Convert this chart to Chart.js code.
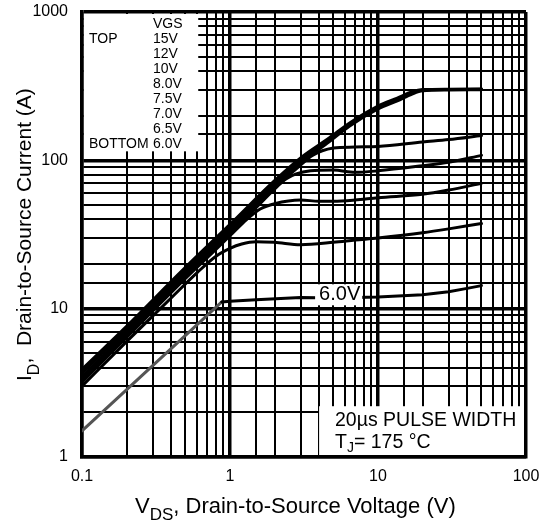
<!DOCTYPE html>
<html>
<head>
<meta charset="utf-8">
<script src="https://cdn.jsdelivr.net/npm/chart.js@4.4.0/dist/chart.umd.min.js"></script>
<style>
body { margin: 0; background: #fff; }
</style>
</head>
<body>
<canvas id="chart" width="553" height="521"></canvas>
<script>
// output characteristics (VDS in V, ID in A)
const vgsLabels = ["15V", "12V", "10V", "8.0V", "7.5V", "7.0V", "6.5V", "6.0V"];

const vdsTop = [0.1, 0.2, 0.5, 1, 2, 3, 4.7, 6.4, 10, 13.5, 17, 20, 30, 50];
const id15V = [3.9, 7.6, 19, 37, 73, 104, 142, 178, 232, 263, 290, 300, 302, 303];
const id12V = [3.7, 7.3, 18.2, 35.5, 70, 100, 138, 175, 228, 258, 285, 297, 300, 301];
const id10V = [3.5, 7.0, 17.5, 34, 67, 96, 134, 170, 222, 252, 280, 294, 298, 299];

const vds8V = [0.1, 0.2, 0.5, 1, 2, 3, 3.6, 4.2, 5, 7, 10, 20, 30, 50];
const id8V = [3.4, 6.8, 17, 33, 65, 93, 108, 116, 121, 123, 124, 133, 138, 147];

const vds75V = [0.1, 0.2, 0.5, 1, 1.5, 2, 2.4, 2.8, 3.5, 5, 7, 10, 20, 30, 50];
const id75V = [3.3, 6.6, 16.5, 32, 48, 64, 75, 81, 85, 86, 83, 85, 92, 97, 108];

const vds7V = [0.1, 0.2, 0.5, 0.8, 1, 1.3, 1.6, 2, 3, 4, 5, 7, 10, 20, 30, 50];
const id7V = [3.2, 6.4, 16, 25, 31, 40, 47, 51, 54, 53, 53, 54, 56, 59, 63, 70];

const vds65V = [0.1, 0.2, 0.4, 0.6, 0.8, 1, 1.2, 1.5, 2, 3, 5, 7, 10, 20, 30, 50];
const id65V = [3.0, 6.0, 11.8, 17.5, 22.5, 25.5, 27.3, 28.3, 28, 27, 28, 29, 30, 32.5, 34.5, 37.5];

const vds6V = [0.1, 0.88, 1, 1.5, 3, 5, 10, 20, 30, 40, 50];
const id6V = [1.5, 11.1, 11.2, 11.5, 11.9, 11.8, 12, 12.4, 13, 13.7, 14.3];

const xTickLabels = {0.1: "0.1", 1: "1", 10: "10", 100: "100"};
const yTickLabels = {1: "1", 10: "10", 100: "100", 1000: "1000"};

const FONT = '"Liberation Sans", Arial, sans-serif';
Chart.defaults.font.family = FONT;

function isDecade(v) {
    const l = Math.log10(v);
    return Math.abs(l - Math.round(l)) < 1e-6;
}

function pts(xs, ys) {
    return xs.map((v, i) => ({x: v, y: ys[i]}));
}

function curve(label, xs, ys, extra) {
    return Object.assign({
        label: label,
        data: pts(xs, ys),
        borderColor: "#000",
        borderWidth: 3,
        pointRadius: 0,
        borderCapStyle: "round",
        cubicInterpolationMode: "monotone"
    }, extra || {});
}

// draws text pieces one after another, subscripts get smaller font + offset
function drawRuns(ctx, x, y, runs) {
    runs.forEach(r => {
        ctx.font = r.size + "px " + FONT;
        ctx.fillText(r.t, x, y + (r.dy || 0));
        x += ctx.measureText(r.t).width;
    });
}

const annotations = {
    id: "annotations",
    beforeDatasetsDraw(chart) {
        const {ctx, chartArea: a, scales: {x, y}} = chart;
        ctx.save();
        ctx.fillStyle = "#fff";
        // legend box top-left
        ctx.fillRect(a.left + 2, a.top + 2, x.getPixelForValue(0.61) - a.left - 2, y.getPixelForValue(115) - a.top - 2);
        // pulse width box bottom-right
        const bx = x.getPixelForValue(4.0), by = y.getPixelForValue(2.2);
        ctx.fillRect(bx, by, a.right - 2 - bx, a.bottom - 2 - by);
        ctx.restore();
    },
    afterDatasetsDraw(chart) {
        const {ctx, scales: {x, y}} = chart;
        ctx.save();
        ctx.fillStyle = "#000";
        ctx.textBaseline = "middle";
        ctx.font = "14px " + FONT;
        ctx.fillText("VGS", 153, 24);
        vgsLabels.forEach((l, i) => ctx.fillText(l, 153, 39 + 15 * i));
        ctx.fillText("TOP", 89, 39);
        ctx.fillText("BOTTOM", 89, 144);

        // 6.0V curve label, sits on top of the line
        ctx.font = "20px " + FONT;
        const lx = x.getPixelForValue(4.0), ly = y.getPixelForValue(12.4);
        const w = ctx.measureText("6.0V").width;
        ctx.fillStyle = "#fff";
        ctx.fillRect(lx - 4, ly - 10.5, w + 6, 21);
        ctx.fillStyle = "#000";
        ctx.fillText("6.0V", lx, ly);

        ctx.textBaseline = "alphabetic";
        drawRuns(ctx, 335, 426, [{t: "20\u00b5s PULSE WIDTH", size: 19.5}]);
        drawRuns(ctx, 335, 448, [
            {t: "T", size: 19.5},
            {t: "J", size: 14, dy: 4},
            {t: "= 175 \u00b0C", size: 19.5}
        ]);
        ctx.restore();
    },
    afterDraw(chart) {
        const ctx = chart.ctx;
        ctx.save();
        ctx.fillStyle = "#000";
        ctx.textBaseline = "alphabetic";
        drawRuns(ctx, 135, 513, [
            {t: "V", size: 22},
            {t: "DS", size: 17, dy: 6.5},
            {t: ", Drain-to-Source Voltage (V)", size: 22}
        ]);
        ctx.translate(31, 381);
        ctx.rotate(-Math.PI / 2);
        drawRuns(ctx, 0, 0, [
            {t: "I", size: 21},
            {t: "D", size: 16, dy: 8},
            {t: ",  Drain-to-Source Current (A)", size: 21}
        ]);
        ctx.restore();
    }
};

function gridWidth(c) {
    return c.tick && isDecade(c.tick.value) ? 3.5 : 2;
}

new Chart(document.getElementById("chart").getContext("2d"), {
    type: "line",
    data: {
        datasets: [
            curve("15V", vdsTop, id15V),
            curve("12V", vdsTop, id12V),
            curve("10V", vdsTop, id10V),
            curve("8.0V", vds8V, id8V),
            curve("7.5V", vds75V, id75V),
            curve("7.0V", vds7V, id7V),
            curve("6.5V", vds65V, id65V),
            curve("6.0V", vds6V, id6V, {
                cubicInterpolationMode: "default",
                tension: 0,
                segment: {borderColor: c => c.p0DataIndex === 0 ? "#555" : "#000"}
            })
        ]
    },
    options: {
        responsive: false,
        animation: false,
        layout: {padding: {top: 12, right: 27, left: 0, bottom: 0}},
        plugins: {legend: {display: false}, tooltip: {enabled: false}},
        scales: {
            x: {
                type: "logarithmic",
                min: 0.1,
                max: 100,
                grid: {color: "#000", lineWidth: gridWidth, drawTicks: false},
                border: {display: true, color: "#000", width: 3.5},
                ticks: {
                    autoSkip: false, maxRotation: 0, padding: 10, color: "#000",
                    font: {size: 16},
                    callback: v => isDecade(v) ? xTickLabels[Math.round(v * 10) / 10] : ""
                },
                afterFit: s => { s.height = 64; s.paddingLeft = 0; s.paddingRight = 0; }
            },
            y: {
                type: "logarithmic",
                min: 1,
                max: 1000,
                grid: {color: "#000", lineWidth: gridWidth, drawTicks: false},
                border: {display: true, color: "#000", width: 3.5},
                ticks: {
                    autoSkip: false, padding: 14, color: "#000",
                    font: {size: 16},
                    callback: v => isDecade(v) ? yTickLabels[Math.round(v)] : ""
                },
                afterFit: s => { s.width = 82; s.paddingTop = 0; s.paddingBottom = 0; }
            }
        }
    },
    plugins: [annotations]
});
</script>
</body>
</html>
